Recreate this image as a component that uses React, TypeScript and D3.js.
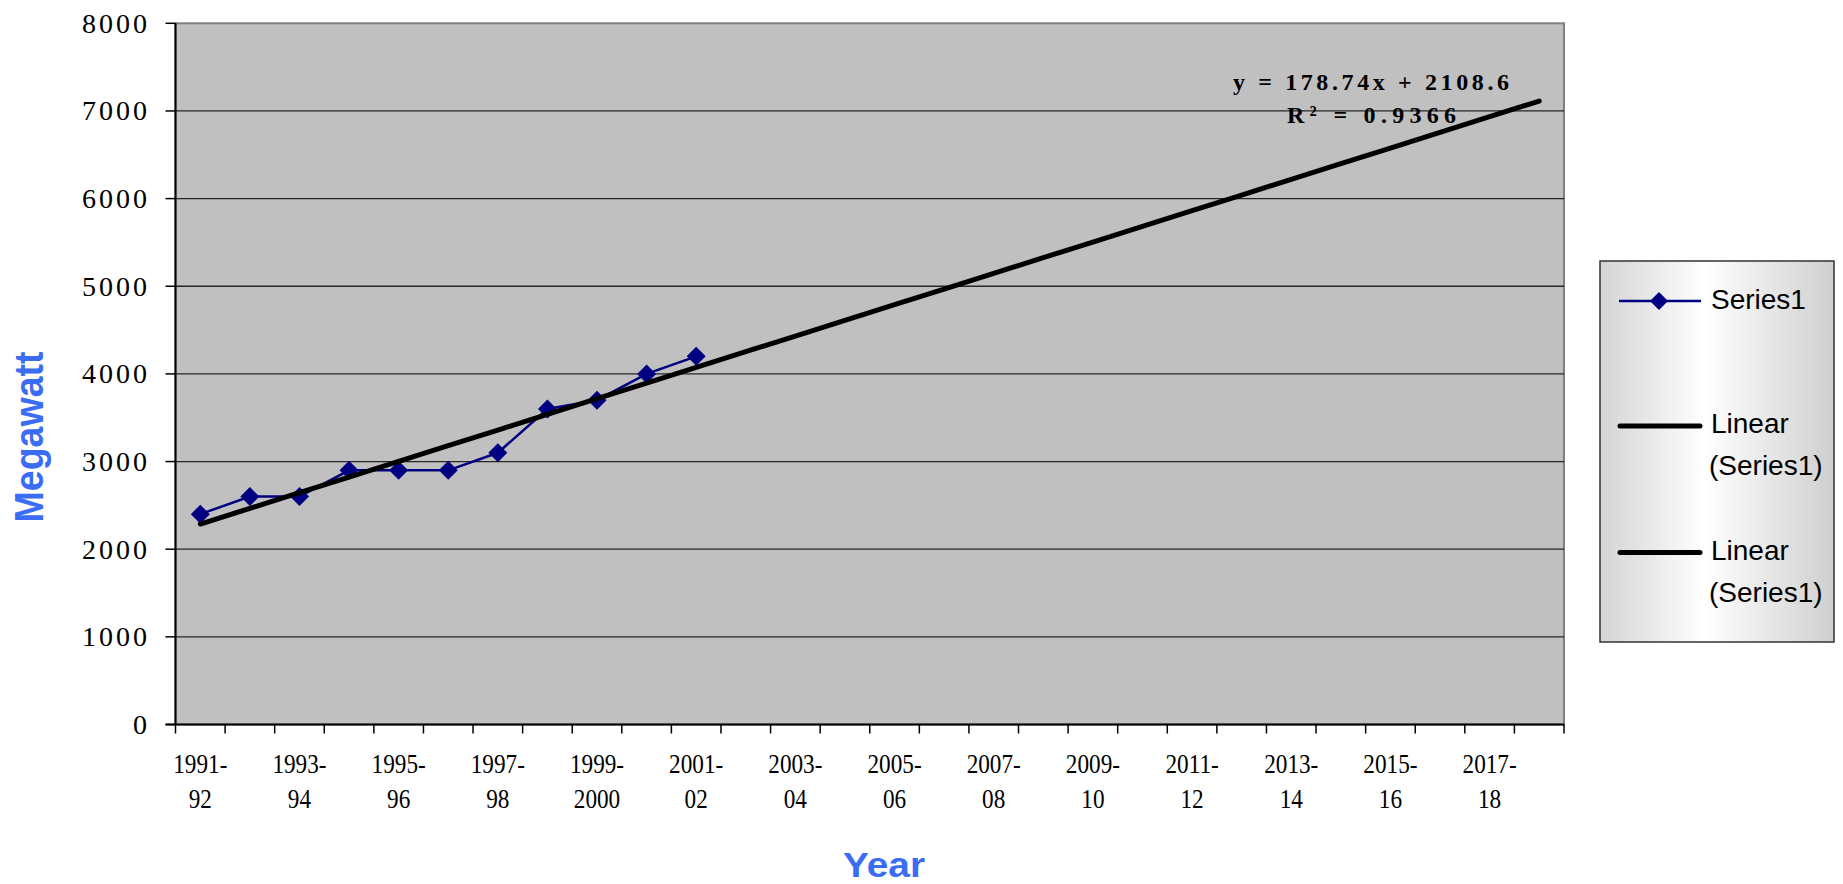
import React from "react";
import * as d3 from "d3";

// Fiscal years on the category axis (one per category slot)
const fiscalYears: string[] = [
  "1991-92", "1992-93", "1993-94", "1994-95", "1995-96", "1996-97", "1997-98",
  "1998-99", "1999-2000", "2000-01", "2001-02", "2002-03", "2003-04", "2004-05",
  "2005-06", "2006-07", "2007-08", "2008-09", "2009-10", "2010-11", "2011-12",
  "2012-13", "2013-14", "2014-15", "2015-16", "2016-17", "2017-18", "2018-19",
];

// Observed demand, Series1 (MW)
const series1: number[] = [2400, 2600, 2600, 2900, 2900, 2900, 3100, 3600, 3700, 4000, 4200];

// Linear trend as reported on the chart
const trendSlope = 178.74;
const trendIntercept = 2108.6;
const trendR2 = 0.9366;

const yTicks: number[] = [0, 1000, 2000, 3000, 4000, 5000, 6000, 7000, 8000];

const W = 1843;
const H = 884;
const plot = { left: 175.5, right: 1564, top: 23.3, bottom: 724.5 };

const NAVY = "#000080";
const TITLE_BLUE = "#3a6cf4";

export default function App() {
  const x = d3
    .scaleBand<string>()
    .domain(fiscalYears)
    .range([plot.left, plot.right])
    .paddingInner(0)
    .paddingOuter(0);
  const y = d3.scaleLinear().domain([0, 8000]).range([plot.bottom, plot.top]);
  const cx = (i: number) => (x(fiscalYears[i]) as number) + x.bandwidth() / 2;

  const seriesLine = d3
    .line<number>()
    .x((_, i) => cx(i))
    .y((v) => y(v));

  const trendValues = fiscalYears.map((_, i) => trendSlope * (i + 1) + trendIntercept);
  const trendLine = d3
    .line<number>()
    .x((_, i) => cx(i))
    .y((v) => y(v));

  const diamond = (px: number, py: number, r: number) =>
    `M${px},${py - r}L${px + r},${py}L${px},${py + r}L${px - r},${py}Z`;

  const boundaries = d3.range(fiscalYears.length + 1).map((i) =>
    i < fiscalYears.length ? (x(fiscalYears[i]) as number) : plot.right
  );

  const sans = "'Liberation Sans', Arial, sans-serif";
  const serif = "'Liberation Serif', 'Times New Roman', serif";

  return (
    <svg
      width={W}
      height={H}
      style={{ position: "absolute", left: 0, top: 0, background: "#ffffff" }}
    >
      <defs>
        <linearGradient id="legendFill" x1="0" y1="0" x2="1" y2="0">
          <stop offset="0%" stopColor="#d4d4d4" />
          <stop offset="45%" stopColor="#ffffff" />
          <stop offset="100%" stopColor="#cfcfcf" />
        </linearGradient>
      </defs>

      {/* plot area */}
      <rect
        x={plot.left}
        y={plot.top}
        width={plot.right - plot.left}
        height={plot.bottom - plot.top}
        fill="#c0c0c0"
        stroke="#808080"
        strokeWidth={2}
      />

      {/* horizontal gridlines */}
      {yTicks
        .filter((t) => t > 0 && t < 8000)
        .map((t) => (
          <line
            key={`g${t}`}
            x1={plot.left}
            x2={plot.right}
            y1={y(t)}
            y2={y(t)}
            stroke="#262626"
            strokeWidth={1.3}
          />
        ))}

      {/* y axis */}
      <line x1={plot.left} x2={plot.left} y1={plot.top} y2={plot.bottom} stroke="#000" strokeWidth={2} />
      {yTicks.map((t) => (
        <g key={`yt${t}`}>
          <line x1={plot.left - 10} x2={plot.left} y1={y(t)} y2={y(t)} stroke="#000" strokeWidth={1.5} />
          <text
            x={150}
            y={y(t) + 9.5}
            textAnchor="end"
            fontFamily={serif}
            fontSize={28}
            letterSpacing={3}
            fill="#000"
          >
            {t}
          </text>
        </g>
      ))}

      {/* x axis */}
      <line x1={plot.left - 10} x2={plot.right} y1={plot.bottom} y2={plot.bottom} stroke="#000" strokeWidth={2} />
      {boundaries.map((bx, i) => (
        <line key={`xt${i}`} x1={bx} x2={bx} y1={plot.bottom} y2={plot.bottom + 9} stroke="#000" strokeWidth={1.5} />
      ))}
      {fiscalYears.map((fy, i) => {
        if (i % 2 !== 0 || i >= 27) return null;
        const dash = fy.indexOf("-");
        const first = fy.slice(0, dash + 1);
        const second = fy.slice(dash + 1);
        return (
          <g key={`xl${fy}`} transform={`translate(${cx(i)},0) scale(0.86,1)`}>
            <text x={0} y={773} textAnchor="middle" fontFamily={serif} fontSize={27} fill="#000">
              {first}
            </text>
            <text x={0} y={808} textAnchor="middle" fontFamily={serif} fontSize={27} fill="#000">
              {second}
            </text>
          </g>
        );
      })}

      {/* Series1 */}
      <path d={seriesLine(series1) ?? ""} fill="none" stroke={NAVY} strokeWidth={2.5} />
      {series1.map((v, i) => (
        <path key={`m${i}`} d={diamond(cx(i), y(v), 9.5)} fill={NAVY} />
      ))}

      {/* Linear trend */}
      <path
        d={trendLine(trendValues) ?? ""}
        fill="none"
        stroke="#000"
        strokeWidth={5}
        strokeLinecap="round"
        strokeLinejoin="round"
      />

      {/* trend equation */}
      <text
        x={1233}
        y={90}
        fontFamily={serif}
        fontWeight="bold"
        fontSize={24}
        textLength={276}
        lengthAdjust="spacing"
        fill="#000"
      >
        {`y = ${trendSlope}x + ${trendIntercept}`}
      </text>
      <text
        x={1287}
        y={123}
        fontFamily={serif}
        fontWeight="bold"
        fontSize={24}
        textLength={169}
        lengthAdjust="spacing"
        fill="#000"
      >
        {`R² = ${trendR2}`}
      </text>

      {/* axis titles */}
      <text
        transform={`translate(42.5,437) rotate(-90)`}
        textAnchor="middle"
        fontFamily={sans}
        fontWeight="bold"
        fontSize={40}
        textLength={171}
        lengthAdjust="spacingAndGlyphs"
        fill={TITLE_BLUE}
      >
        Megawatt
      </text>
      <text
        x={884}
        y={876.5}
        textAnchor="middle"
        fontFamily={sans}
        fontWeight="bold"
        fontSize={35}
        textLength={82}
        lengthAdjust="spacingAndGlyphs"
        fill={TITLE_BLUE}
      >
        Year
      </text>

      {/* legend */}
      <rect x={1600} y={261} width={234} height={381} fill="url(#legendFill)" stroke="#333" strokeWidth={1.5} />
      <line x1={1619} x2={1701} y1={301} y2={301} stroke={NAVY} strokeWidth={2.5} />
      <path d={diamond(1659, 301, 9)} fill={NAVY} />
      <text x={1711} y={309} fontFamily={sans} fontSize={28} fill="#000">
        Series1
      </text>

      <line x1={1620} x2={1700} y1={426} y2={426} stroke="#000" strokeWidth={5} strokeLinecap="round" />
      <text x={1711} y={433} fontFamily={sans} fontSize={28} fill="#000">
        Linear
      </text>
      <text x={1709} y={475} fontFamily={sans} fontSize={28} fill="#000">
        (Series1)
      </text>

      <line x1={1620} x2={1700} y1={552.5} y2={552.5} stroke="#000" strokeWidth={5} strokeLinecap="round" />
      <text x={1711} y={560} fontFamily={sans} fontSize={28} fill="#000">
        Linear
      </text>
      <text x={1709} y={602} fontFamily={sans} fontSize={28} fill="#000">
        (Series1)
      </text>
    </svg>
  );
}
